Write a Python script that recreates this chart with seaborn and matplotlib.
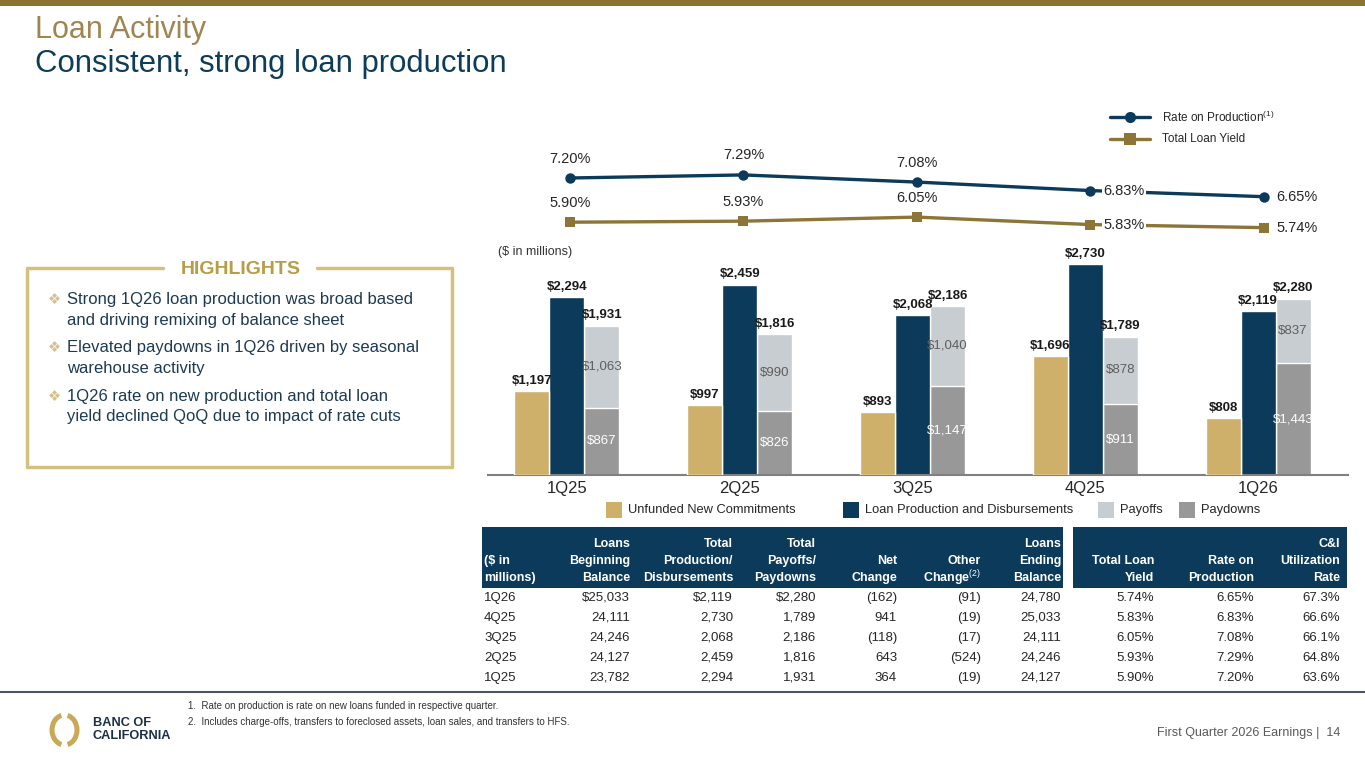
import matplotlib
matplotlib.use("Agg")
import matplotlib.pyplot as plt
import numpy as np
import seaborn as sns
from matplotlib.lines import Line2D
from matplotlib.patches import Arc, Rectangle

# ---- data -------------------------------------------------------------
quarters = ["1Q25", "2Q25", "3Q25", "4Q25", "1Q26"]
unfunded = [1197, 997, 893, 1696, 808]
loan_production = [2294, 2459, 2068, 2730, 2119]
payoffs = [1063, 990, 1040, 878, 837]
paydowns = [867, 826, 1147, 911, 1443]
payoffs_total = [1931, 1816, 2186, 1789, 2280]
rate_on_production = [7.20, 7.29, 7.08, 6.83, 6.65]
total_loan_yield = [5.90, 5.93, 6.05, 5.83, 5.74]

# table columns, chronological (table shows newest first)
beginning_balance = [23782, 24127, 24246, 24111, 25033]
net_change = [364, 643, -118, 941, -162]
other_change = [-19, -524, -17, -19, -91]
ending_balance = [24127, 24246, 24111, 25033, 24780]
ci_utilization = [63.6, 64.8, 66.1, 66.6, 67.3]

highlights = [
    ["Strong 1Q26 loan production was broad based", "and driving remixing of balance sheet"],
    ["Elevated paydowns in 1Q26 driven by seasonal", "warehouse activity"],
    ["1Q26 rate on new production and total loan", "yield declined QoQ due to impact of rate cuts"],
]
footnotes = [
    "1.  Rate on production is rate on new loans funded in respective quarter.",
    "2.  Includes charge-offs, transfers to foreclosed assets, loan sales, and transfers to HFS.",
]

# ---- style ------------------------------------------------------------
GOLD = "#CFB06A"
LINE_GOLD = "#8C7536"
NAVY = "#0B3A5A"
LIGHT = "#C8CDD1"
GRAY = "#989898"
TXT = "#262626"

sns.set_theme(style="white")
plt.rcParams["font.family"] = ["Liberation Sans", "DejaVu Sans"]
plt.rcParams["mathtext.fontset"] = "custom"
plt.rcParams["mathtext.rm"] = "Liberation Sans"

W, H = 1365, 768
fig = plt.figure(figsize=(W / 100, H / 100), dpi=100)


def fx(px):
    return px / W


def fy(py):
    return 1 - py / H


def ftext(x, y, s, **kw):
    kw.setdefault("color", TXT)
    return fig.text(fx(x), fy(y), s, **kw)


# ---- header -----------------------------------------------------------
fig.add_artist(Rectangle((0, fy(6)), 1, 6 / H, transform=fig.transFigure,
                         color="#8B7334", lw=0))
ftext(35, 38, "Loan Activity", fontsize=22, color="#A08550", va="baseline")
ftext(35, 72, "Consistent, strong loan production", fontsize=22.4, color="#0E3D59",
      va="baseline")

# ---- bars -------------------------------------------------------------
x = np.arange(len(quarters))
bw = 0.2026
xlim = (-0.457, 4.52)

ax = fig.add_axes([fx(488), fy(475), 860 / W, 220 / H])
ax_u = ax.twinx()
for a in (ax, ax_u):
    a.set_facecolor("none")

sns.barplot(x=x + bw, y=payoffs_total, native_scale=True, width=bw, color=LIGHT,
            saturation=1, errorbar=None, ax=ax)
sns.barplot(x=x + bw, y=paydowns, native_scale=True, width=bw, color=GRAY,
            saturation=1, errorbar=None, ax=ax)
sns.barplot(x=x, y=loan_production, native_scale=True, width=bw, color=NAVY,
            saturation=1, errorbar=None, ax=ax)
sns.barplot(x=x - bw, y=unfunded, native_scale=True, width=bw, color=GOLD,
            saturation=1, errorbar=None, ax=ax_u)

ax.set_xlim(*xlim)
ax.set_ylim(0, 2842)
ax_u.set_ylim(0, 3134)

lab = dict(fontsize=9.5, fontweight="bold", color="#1A1A1A", padding=3)
ax.bar_label(ax.containers[0], labels=[f"${v:,}" for v in payoffs_total], **lab)
ax.bar_label(ax.containers[2], labels=[f"${v:,}" for v in loan_production], **lab)
ax_u.bar_label(ax_u.containers[0], labels=[f"${v:,}" for v in unfunded], **lab)
ax.bar_label(ax.containers[1], labels=[f"${v:,}" for v in paydowns],
             label_type="center", fontsize=9.5, color="white")
for i in x:
    ax.text(i + bw, paydowns[i] + payoffs[i] / 2, f"${payoffs[i]:,}", ha="center",
            va="center", fontsize=9.5, color="#5E5E5E")

ax.set_xticks(x, quarters)
ax.tick_params(axis="x", length=0, pad=4, labelsize=12, labelcolor=TXT)
ax.set_yticks([])
ax_u.set_yticks([])
ax.set_xlabel("")
ax.set_ylabel("")
ax_u.set_ylabel("")
for side in ("left", "right", "top"):
    ax.spines[side].set_visible(False)
for s in ax_u.spines.values():
    s.set_visible(False)
ax.spines["bottom"].set_color("#808080")
ax.spines["bottom"].set_linewidth(1.5)

ftext(498, 252, "($ in millions)", fontsize=9, color="#333333", va="center")

legend_items = [("Unfunded New Commitments", GOLD, 606),
                ("Loan Production and Disbursements", NAVY, 843),
                ("Payoffs", LIGHT, 1098),
                ("Paydowns", GRAY, 1179)]
for name, col, px in legend_items:
    fig.add_artist(Rectangle((fx(px), fy(518)), 16 / W, 16 / H,
                             transform=fig.transFigure, color=col, lw=0))
    ftext(px + 22, 510, name, fontsize=9.3, va="center")

# ---- rate lines -------------------------------------------------------
axl = fig.add_axes([fx(490.7), fy(250), 863.5 / W, 150 / H])
sns.lineplot(x=x, y=rate_on_production, marker="o", markersize=7.5, markeredgewidth=0,
             color=NAVY, linewidth=2.4, ax=axl)
sns.lineplot(x=x, y=total_loan_yield, marker="s", markersize=7.5, markeredgewidth=0,
             color=LINE_GOLD, linewidth=2.4, ax=axl)
axl.set_xlim(*xlim)
axl.set_ylim(5.082, 9.494)
axl.axis("off")
for series in (rate_on_production, total_loan_yield):
    for i, v in enumerate(series):
        if i < 3:
            axl.annotate(f"{v:.2f}%", (x[i], v), xytext=(0, 14),
                         textcoords="offset points", ha="center", va="center",
                         fontsize=10.5, color=TXT)
        else:
            axl.annotate(f"{v:.2f}%", (x[i], v), xytext=(9, 0),
                         textcoords="offset points", ha="left", va="center",
                         fontsize=10.5, color=TXT,
                         bbox=dict(boxstyle="square,pad=0.1", fc="white", ec="none"))

for py, col, mk, name in [(117, NAVY, "o", "Rate on Production$^{(1)}$"),
                          (139, LINE_GOLD, "s", "Total Loan Yield")]:
    fig.add_artist(Line2D([fx(1110), fx(1150)], [fy(py)] * 2, transform=fig.transFigure,
                          color=col, lw=2.4))
    fig.add_artist(Line2D([fx(1130)], [fy(py)], transform=fig.transFigure, color=col,
                          marker=mk, ms=8, mew=0))
    ftext(1162, py, name, fontsize=8.5, va="center")

# ---- highlights box ---------------------------------------------------
box_x = [163, 27, 27, 452, 452, 317]
box_y = [268, 268, 467, 467, 268, 268]
fig.add_artist(Line2D([fx(v) for v in box_x], [fy(v) for v in box_y],
                      transform=fig.transFigure, color="#D5BF7F", lw=2.5))
ftext(241, 269, "HIGHLIGHTS", fontsize=14, fontweight="bold", color="#B79D45",
      ha="center", va="center")
line_y = [[299, 320], [347, 368], [396, 417]]
for lines, ys in zip(highlights, line_y):
    ftext(54, ys[0], "\u2756", fontsize=10.5, color="#D6C08A", ha="center", va="center",
          family=["DejaVu Sans"])
    for s, py in zip(lines, ys):
        ftext(67, py, s, fontsize=12, color="#1D3A52", va="center")

# ---- table ------------------------------------------------------------
for x0, x1 in [(482, 1063), (1073, 1347)]:
    fig.add_artist(Rectangle((fx(x0), fy(588)), (x1 - x0) / W, 61 / H,
                             transform=fig.transFigure, color=NAVY, lw=0))

header_cols = [
    (484, "left", ["($ in", "millions)"]),
    (630, "right", ["Loans", "Beginning", "Balance"]),
    (733, "right", ["Total", "Production/", "Disbursements"]),
    (816, "right", ["Total", "Payoffs/", "Paydowns"]),
    (897, "right", ["Net", "Change"]),
    (981, "right", ["Other", "Change$^{(2)}$"]),
    (1061, "right", ["Loans", "Ending", "Balance"]),
    (1154, "right", ["Total Loan", "Yield"]),
    (1254, "right", ["Rate on", "Production"]),
    (1340, "right", ["C&I", "Utilization", "Rate"]),
]
header_y = [544, 561, 578]
for px, ha, lines in header_cols:
    for s, py in zip(lines, header_y[-len(lines):]):
        ftext(px, py, s, fontsize=9, fontweight="bold", color="white", ha=ha,
              va="center")


def num(v, first=False, dollar=False):
    s = f"({abs(v):,})" if v < 0 else f"{v:,}"
    return "$" + s if (first and dollar) else s


row_y = [598, 618, 638, 658, 678]
order = list(range(len(quarters)))[::-1]
for r, i in enumerate(order):
    py = row_y[r]
    first = r == 0
    cells = [
        num(beginning_balance[i], first, True),
        num(loan_production[i], first, True),
        num(payoffs_total[i], first, True),
        num(net_change[i]),
        num(other_change[i]),
        num(ending_balance[i]),
        f"{total_loan_yield[i]:.2f}%",
        f"{rate_on_production[i]:.2f}%",
        f"{ci_utilization[i]:.1f}%",
    ]
    ftext(484, py, quarters[i], fontsize=9.5, va="center")
    for (px, _, _), s in zip(header_cols[1:], cells):
        ftext(px, py, s, fontsize=9.5, ha="right", va="center")

fig.add_artist(Line2D([0, 1], [fy(692)] * 2, transform=fig.transFigure,
                      color="#4A5560", lw=1.5))

# ---- footer -----------------------------------------------------------
for s, py in zip(footnotes, [706, 722]):
    ftext(188, py, s, fontsize=7, color="#333333", va="center")

logo = fig.add_axes([fx(44.5), fy(750), 40 / W, 40 / H])
logo.set_xlim(0, 40)
logo.set_ylim(0, 40)
logo.axis("off")
for t1, t2 in [(102, 258), (-78, 78)]:
    logo.add_patch(Arc((20, 20), 25, 30, theta1=t1, theta2=t2, lw=3.6,
                       color="#C9A858"))
ftext(93, 723.5, "BANC OF", fontsize=9.2, fontweight="bold", color="#1B3048",
      va="center")
ftext(93, 736, "CALIFORNIA", fontsize=9.2, fontweight="bold", color="#1B3048",
      va="center")
ftext(1340, 733, "First Quarter 2026 Earnings |  14", fontsize=9, color="#595959",
      ha="right", va="center")

fig.savefig("out.png", dpi=100)
